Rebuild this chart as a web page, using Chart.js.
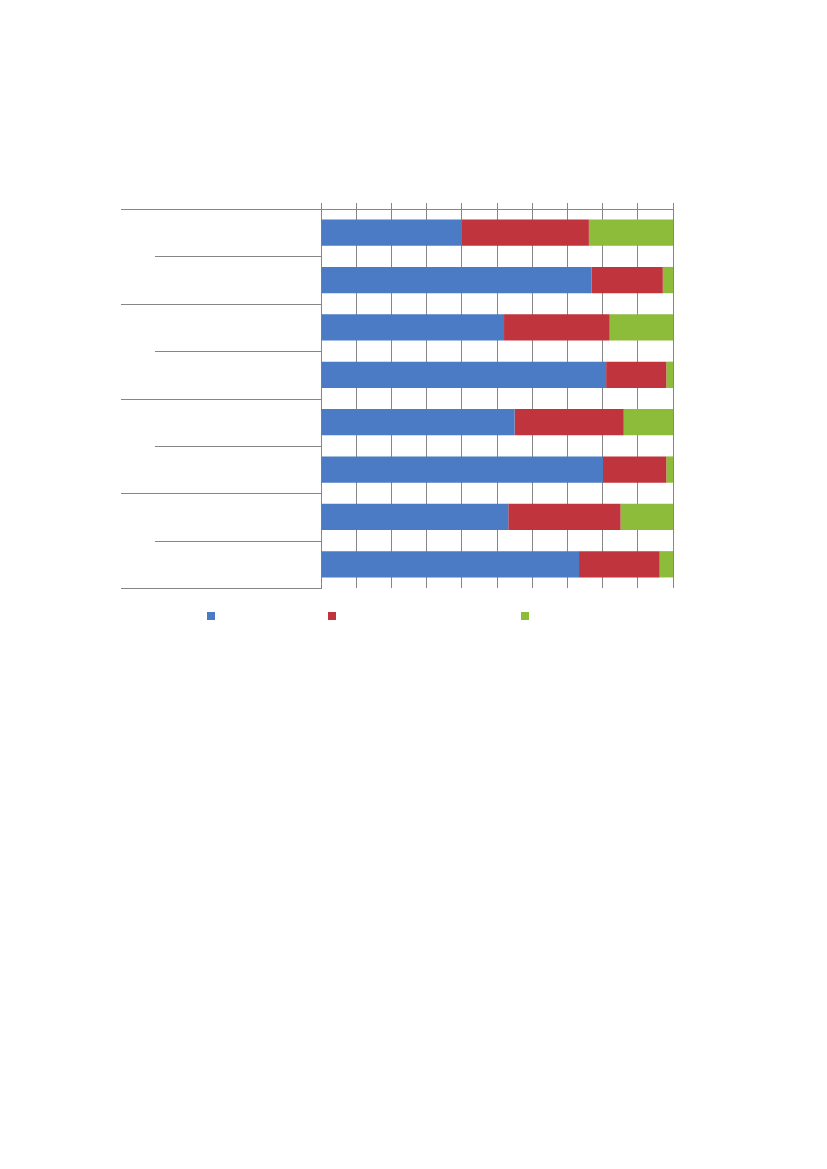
<!DOCTYPE html>
<html>
<head>
<meta charset="utf-8">
<script src="https://cdn.jsdelivr.net/npm/chart.js@4.4.1/dist/chart.umd.min.js"></script>
<style>
  html, body { margin: 0; padding: 0; background: #ffffff; }
  #wrap { position: absolute; left: 0; top: 0; width: 827px; height: 1169px; }
</style>
</head>
<body>
<div id="wrap"><canvas id="c" width="827" height="1169"></canvas></div>
<script>
// Category labels (blank in the reference)
const categories = ['', '', '', '', '', '', '', ''];
// Series values (percent of total, 100% stacked)
const seriesBlue  = [40.0, 76.9, 52.0, 81.0, 55.0, 80.1, 53.2, 73.3];
const seriesRed   = [36.1, 20.2, 30.0, 17.1, 31.0, 18.0, 31.9, 22.9];
const seriesGreen = [23.9,  2.9, 18.0,  1.9, 14.0,  1.9, 14.9,  3.8];
const seriesNames = ['', '', ''];
const colors = ['#4a7bc4', '#c0353d', '#8dbb3a'];
const axisColor = '#868686';

const leftLinesPlugin = {
  id: 'leftLines',
  afterDraw(chart) {
    const ctx = chart.ctx;
    const y = chart.scales.y;
    const area = chart.chartArea;
    const step = (area.bottom - area.top) / categories.length;
    ctx.save();
    ctx.strokeStyle = axisColor;
    ctx.lineWidth = 1;
    for (let i = 0; i <= categories.length; i++) {
      const py = Math.round(y.getPixelForValue(0) - step / 2 + i * step) + 0.5;
      const x0 = (i % 2 === 0) ? 121 : 155;
      ctx.beginPath();
      ctx.moveTo(x0, py);
      ctx.lineTo(area.left, py);
      ctx.stroke();
    }
    // legend squares
    const lx = [207, 328, 521];
    chart.data.datasets.forEach((ds, k) => {
      ctx.fillStyle = ds.backgroundColor;
      ctx.fillRect(lx[k], 612, 8, 8);
    });
    ctx.restore();
  }
};

new Chart(document.getElementById('c'), {
  type: 'bar',
  data: {
    labels: categories,
    datasets: [
      { label: seriesNames[0], data: seriesBlue, backgroundColor: colors[0] },
      { label: seriesNames[1], data: seriesRed, backgroundColor: colors[1] },
      { label: seriesNames[2], data: seriesGreen, backgroundColor: colors[2] }
    ]
  },
  options: {
    indexAxis: 'y',
    responsive: false,
    animation: false,
    devicePixelRatio: 1,
    layout: { padding: { left: 321, right: 154, top: 203, bottom: 581 } },
    datasets: { bar: { categoryPercentage: 1.0, barPercentage: 0.555, borderWidth: 0 } },
    plugins: { legend: { display: false }, tooltip: { enabled: false }, title: { display: false } },
    scales: {
      x: {
        type: 'linear', stacked: true, position: 'top', min: 0, max: 100,
        ticks: { display: false, stepSize: 10 },
        grid: { color: axisColor, lineWidth: 1, drawTicks: true, tickLength: 6 },
        border: { display: true, color: axisColor, width: 1 },
        afterFit: s => { s.height = 6; }
      },
      y: {
        type: 'category', stacked: true,
        ticks: { display: false },
        grid: { display: false },
        border: { display: true, color: axisColor, width: 1 },
        afterFit: s => { s.width = 0; }
      }
    }
  },
  plugins: [leftLinesPlugin]
});
</script>
</body>
</html>
